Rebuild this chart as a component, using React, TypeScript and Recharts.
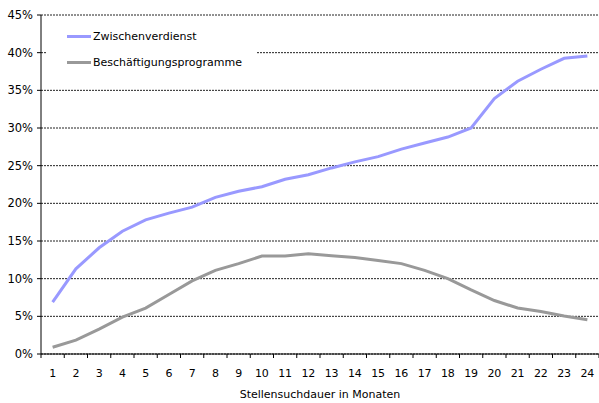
import React from "react";
import { LineChart, Line, XAxis, YAxis, CartesianGrid, Legend, Label } from "recharts";

const months = [1, 2, 3, 4, 5, 6, 7, 8, 9, 10, 11, 12, 13, 14, 15, 16, 17, 18, 19, 20, 21, 22, 23, 24];
const zwischenverdienst = [6.9, 11.3, 14.1, 16.3, 17.8, 18.7, 19.5, 20.8, 21.6, 22.2, 23.2, 23.8, 24.7, 25.5, 26.2, 27.2, 28.0, 28.8, 30.0, 33.9, 36.2, 37.8, 39.25, 39.55];
const beschaeftigung = [0.9, 1.85, 3.3, 4.9, 6.1, 7.9, 9.7, 11.1, 12.0, 13.0, 13.0, 13.3, 13.05, 12.8, 12.4, 12.0, 11.1, 10.0, 8.5, 7.1, 6.1, 5.65, 5.05, 4.55];
const yTicks = [0, 5, 10, 15, 20, 25, 30, 35, 40, 45];
const seriesNames = ["Zwischenverdienst", "Beschäftigungsprogramme"];
const seriesColors = ["#9999FF", "#999999"];
const xTitle = "Stellensuchdauer in Monaten";

const data = months.map((m, i) => ({
  month: m,
  z: zwischenverdienst[i],
  b: beschaeftigung[i],
}));

const W = 599;
const H = 403;
const M = { top: 15, right: 0, left: 0, bottom: 0 };
const YW = 41;
const XH = 49;
const AXIS_Y = H - M.bottom - XH;
const STEP = (W - M.left - M.right - YW) / months.length;
const FONT = "'DejaVu Sans', Verdana, sans-serif";

const XTick = (props: any) => {
  const { x, payload } = props;
  const isLast = payload.value === months[months.length - 1];
  return (
    <g>
      <line x1={x - STEP / 2} x2={x - STEP / 2} y1={AXIS_Y} y2={AXIS_Y + 4} stroke="#000" />
      {isLast && <line x1={x + STEP / 2} x2={x + STEP / 2} y1={AXIS_Y} y2={AXIS_Y + 4} stroke="#000" />}
      <text x={x} y={AXIS_Y + 23} textAnchor="middle" fontSize={11} fontFamily={FONT} fill="#000">
        {payload.value}
      </text>
    </g>
  );
};

const LegendContent = () => (
  <div style={{ background: "#fff", width: 211, height: 62, position: "relative", fontFamily: FONT, fontSize: 11 }}>
    {seriesNames.map((n, i) => (
      <div key={n} style={{ position: "absolute", left: 21, top: 9 + i * 26, display: "flex", alignItems: "center", height: 14 }}>
        <div style={{ width: 24, height: 3, background: seriesColors[i] }} />
        <span style={{ marginLeft: 2, color: "#000" }}>{n}</span>
      </div>
    ))}
  </div>
);

export default function App() {
  return (
    <div style={{ position: "absolute", left: 0, top: 0, width: W, height: H, background: "#fff" }}>
      <LineChart width={W} height={H} data={data} margin={M}>
        <CartesianGrid vertical={false} stroke="#222" strokeDasharray="2 1" />
        <XAxis
          dataKey="month"
          type="number"
          domain={[0.5, 24.5]}
          ticks={months}
          interval={0}
          height={XH}
          axisLine={{ stroke: "#000" }}
          tickLine={false}
          tick={<XTick />}
        >
          <Label value={xTitle} position="insideBottom" offset={5} style={{ fontSize: 11, fontFamily: FONT, fill: "#000" }} />
        </XAxis>
        <YAxis
          domain={[0, 45]}
          ticks={yTicks}
          width={YW}
          tickSize={4}
          tickMargin={4}
          axisLine={{ stroke: "#000" }}
          tickLine={{ stroke: "#000" }}
          tickFormatter={(v: number) => `${v}%`}
          tick={{ fontSize: 11.5, fontFamily: FONT, fill: "#000" }}
        />
        <Legend
          layout="horizontal"
          verticalAlign="middle"
          align="center"
          content={<LegendContent />}
          wrapperStyle={{ position: "absolute", left: 46, top: 20, width: 211, height: 62 }}
        />
        <Line dataKey="z" name={seriesNames[0]} stroke={seriesColors[0]} strokeWidth={3} dot={false} isAnimationActive={false} />
        <Line dataKey="b" name={seriesNames[1]} stroke={seriesColors[1]} strokeWidth={3} dot={false} isAnimationActive={false} />
      </LineChart>
    </div>
  );
}
